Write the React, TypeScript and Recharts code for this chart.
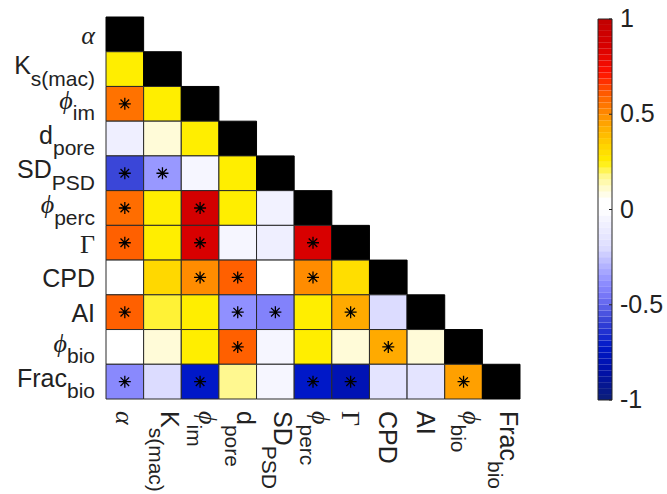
import React from 'react';
import { ScatterChart, Scatter, XAxis, YAxis, ReferenceArea } from 'recharts';

// Variable labels (main text + subscript)
const mainLabels = ['α', 'K', 'ϕ', 'd', 'SD', 'ϕ', 'Γ', 'CPD', 'AI', 'ϕ', 'Frac'];
const subLabels = ['', 's(mac)', 'im', 'pore', 'PSD', 'perc', '', '', '', 'bio', 'bio'];
const greekLabel = [true, false, true, false, false, true, true, false, false, true, false];
const italicLabel = [true, false, true, false, false, true, false, false, false, true, false];

// Lower-triangle correlation values (row i, columns 0..i-1); diagonal drawn black
const corrKs = [0.25];
const corrPhiIm = [0.56, 0.25];
const corrDpore = [-0.08, 0.1, 0.25];
const corrSD = [-0.58, -0.36, -0.04, 0.25];
const corrPhiPerc = [0.57, 0.25, 0.88, 0.25, -0.06];
const corrGamma = [0.6, 0.25, 0.85, -0.04, -0.08, 0.85];
const corrCPD = [0.0, 0.32, 0.5, 0.6, 0.0, 0.5, 0.3];
const corrAI = [0.6, 0.22, 0.25, -0.38, -0.42, 0.25, 0.44, -0.2];
const corrPhiBio = [0.0, 0.1, 0.25, 0.6, -0.04, 0.25, 0.1, 0.44, 0.1];
const corrFrac = [-0.4, -0.2, -0.72, 0.17, -0.04, -0.72, -0.8, -0.15, -0.15, 0.46];
const corrRows = [[], corrKs, corrPhiIm, corrDpore, corrSD, corrPhiPerc, corrGamma, corrCPD, corrAI, corrPhiBio, corrFrac];

// Significance flags (asterisks)
const sigKs = [0];
const sigPhiIm = [1, 0];
const sigDpore = [0, 0, 0];
const sigSD = [1, 1, 0, 0];
const sigPhiPerc = [1, 0, 1, 0, 0];
const sigGamma = [1, 0, 1, 0, 0, 1];
const sigCPD = [0, 0, 1, 1, 0, 1, 0];
const sigAI = [1, 0, 0, 1, 1, 0, 1, 0];
const sigPhiBio = [0, 0, 0, 1, 0, 0, 0, 1, 0];
const sigFrac = [1, 0, 1, 0, 0, 1, 1, 0, 0, 1];
const sigRows = [[], sigKs, sigPhiIm, sigDpore, sigSD, sigPhiPerc, sigGamma, sigCPD, sigAI, sigPhiBio, sigFrac];

const colorbarTicks = [-1, -0.5, 0, 0.5, 1];

// Colormap stops
const cmapValues = [-1, -0.85, -0.72, -0.58, -0.45, -0.38, -0.2, -0.05, 0, 0.05, 0.1, 0.17, 0.25, 0.32, 0.44, 0.5, 0.6, 0.72, 0.85, 1];
const cmapColors = ['#0c1f78', '#0010a8', '#0018c8', '#3a46d8', '#7878f8', '#9090ff', '#dcdcff', '#f4f4ff', '#ffffff', '#ffffff', '#fffbd8', '#fff890', '#ffee00', '#ffd800', '#ffaa00', '#ff8c00', '#ff6000', '#ff1000', '#d80000', '#c00000'];

function hexToRgb(h: string) {
  return [parseInt(h.slice(1, 3), 16), parseInt(h.slice(3, 5), 16), parseInt(h.slice(5, 7), 16)];
}
function colorFor(v: number) {
  if (v <= cmapValues[0]) return cmapColors[0];
  for (let i = 1; i < cmapValues.length; i++) {
    if (v <= cmapValues[i]) {
      const t = (v - cmapValues[i - 1]) / (cmapValues[i] - cmapValues[i - 1]);
      const a = hexToRgb(cmapColors[i - 1]);
      const b = hexToRgb(cmapColors[i]);
      const c = a.map((x, k) => Math.round(x + (b[k] - x) * t));
      return `rgb(${c[0]},${c[1]},${c[2]})`;
    }
  }
  return cmapColors[cmapColors.length - 1];
}

const N = mainLabels.length;
const cells: { r: number; c: number; v: number | null }[] = [];
const stars: { x: number; y: number }[] = [];
for (let r = 0; r < N; r++) {
  for (let c = 0; c <= r; c++) {
    if (c === r) cells.push({ r, c, v: null });
    else {
      cells.push({ r, c, v: corrRows[r][c] });
      if (sigRows[r][c]) stars.push({ x: c + 0.5, y: r + 0.5 });
    }
  }
}
const tickPositions = mainLabels.map((_, i) => i + 0.5);

const SANS = 'Liberation Sans, Arial, sans-serif';
const SERIF = 'Liberation Serif, DejaVu Serif, serif';
const TEXT = '#222222';

function labelSpans(i: number, subDy: number) {
  const sub = subLabels[i];
  return [
    <tspan key="m" fontFamily={greekLabel[i] ? SERIF : SANS} fontStyle={italicLabel[i] ? 'italic' : 'normal'} fontSize={greekLabel[i] ? 26 : 25}>
      {mainLabels[i]}
    </tspan>,
    sub ? (
      <tspan key="s" dy={subDy} fontFamily={SANS} fontStyle="normal" fontSize={21}>
        {sub}
      </tspan>
    ) : null,
  ];
}

const YTick = (props: any) => {
  const { x, y, payload } = props;
  const i = Math.floor(payload.value);
  const hasSub = !!subLabels[i];
  return (
    <text x={x} y={y + (hasSub ? 5 : 10)} textAnchor="end" fill={TEXT}>
      {labelSpans(i, 11.5)}
    </text>
  );
};

const XTick = (props: any) => {
  const { x, y, payload } = props;
  const i = Math.floor(payload.value);
  const hasSub = !!subLabels[i];
  return (
    <g transform={`translate(${x},${y}) rotate(90)`}>
      <text x={0} y={hasSub ? 1 : 9} textAnchor="start" fill={TEXT}>
        {labelSpans(i, 12)}
      </text>
    </g>
  );
};

const Asterisk = (props: any) => {
  const { cx, cy } = props;
  const a = 6;
  const d = 4.3;
  return (
    <path
      d={`M${cx - a},${cy}L${cx + a},${cy}M${cx},${cy - a}L${cx},${cy + a}M${cx - d},${cy - d}L${cx + d},${cy + d}M${cx - d},${cy + d}L${cx + d},${cy - d}`}
      stroke="#000"
      strokeWidth={1.3}
      fill="none"
    />
  );
};

const CBTick = (props: any) => {
  const { x, y, payload } = props;
  return (
    <g>
      <line x1={x - 3} y1={y} x2={x} y2={y} stroke={TEXT} strokeWidth={1} />
      <text x={x + 8} y={y + 8} fontFamily={SANS} fontSize={25} fill={TEXT} textAnchor="start">
        {payload.value}
      </text>
    </g>
  );
};

const NB = 64;
const bands = Array.from({ length: NB }, (_, k) => {
  const y1 = -1 + (2 * k) / NB;
  const y2 = -1 + (2 * (k + 1)) / NB;
  return { x: 0.5, y: (y1 + y2) / 2, y1, y2, color: colorFor((y1 + y2) / 2) };
});

const Nothing = () => null;

export default function App() {
  return (
    <div style={{ position: 'absolute', left: 0, top: 0, width: 667, height: 494, background: '#fff' }}>
      <div style={{ position: 'absolute', left: 0, top: 0 }}>
        <ScatterChart width={560} height={494} margin={{ top: 17, right: 40, bottom: 5, left: 6 }}>
          <XAxis
            type="number"
            dataKey="x"
            domain={[0, N]}
            ticks={tickPositions}
            interval={0}
            tick={<XTick />}
            tickLine={false}
            axisLine={false}
            tickSize={0}
            tickMargin={12}
            height={90}
            allowDataOverflow
          />
          <YAxis
            type="number"
            dataKey="y"
            domain={[0, N]}
            reversed
            ticks={tickPositions}
            interval={0}
            tick={<YTick />}
            tickLine={false}
            axisLine={false}
            tickSize={0}
            tickMargin={11}
            width={100}
            allowDataOverflow
          />
          {cells.map((cell) => (
            <ReferenceArea
              key={`${cell.r}-${cell.c}`}
              x1={cell.c}
              x2={cell.c + 1}
              y1={cell.r}
              y2={cell.r + 1}
              fill={cell.v === null ? '#000' : colorFor(cell.v)}
              fillOpacity={1}
              stroke={cell.v === null ? '#000' : '#2a2a2a'}
              strokeWidth={1}
              ifOverflow="visible"
            />
          ))}
          <Scatter data={stars} shape={<Asterisk />} isAnimationActive={false} />
        </ScatterChart>
      </div>
      <div style={{ position: 'absolute', left: 560, top: 0 }}>
        <ScatterChart width={107} height={494} margin={{ top: 19, right: 0, bottom: 94, left: 38 }}>
          <XAxis type="number" dataKey="x" domain={[0, 1]} hide height={0} />
          <YAxis
            orientation="right"
            type="number"
            dataKey="y"
            domain={[-1, 1]}
            ticks={colorbarTicks}
            interval={0}
            tick={<CBTick />}
            tickLine={false}
            axisLine={false}
            tickSize={0}
            tickMargin={0}
            width={55}
          />
          {bands.map((b, k) => (
            <ReferenceArea
              key={k}
              x1={0}
              x2={1}
              y1={b.y1}
              y2={b.y2}
              fill={b.color}
              fillOpacity={1}
              stroke="none"
              ifOverflow="visible"
            />
          ))}
          <ReferenceArea x1={0} x2={1} y1={-1} y2={1} fill="none" fillOpacity={0} stroke="#262626" strokeWidth={1} ifOverflow="visible" />
          <Scatter data={bands} shape={<Nothing />} isAnimationActive={false} />
        </ScatterChart>
      </div>
    </div>
  );
}
